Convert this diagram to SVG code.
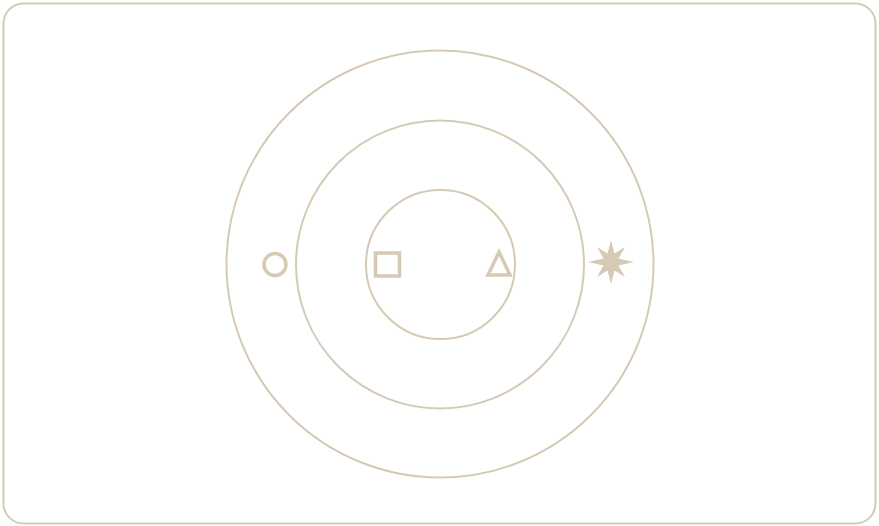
<svg xmlns="http://www.w3.org/2000/svg" width="879" height="526" viewBox="0 0 879 526">
<style>
.ln{fill:none;stroke:#d6cab5;stroke-width:2}
.mk{fill:none;stroke:#d6cab5;stroke-width:3.5}
.fl{fill:#d6cab5;stroke:none}
</style>
<rect width="879" height="526" fill="#ffffff"/>
<rect class="ln" x="3.5" y="3.5" width="872" height="520" rx="20"/>
<g id="ring-outer"><circle class="ln" cx="440" cy="264" r="213.5"/></g>
<g id="ring-middle"><circle class="ln" cx="440" cy="264.5" r="144"/></g>
<g id="ring-inner"><circle class="ln" cx="440.5" cy="264.5" r="74.5"/></g>
<g id="circle-marker"><circle class="mk" cx="275" cy="264.5" r="11"/></g>
<g id="square-marker"><rect class="mk" x="375.5" y="253" width="24" height="23"/></g>
<g id="triangle-marker"><polygon class="mk" points="499,252 510,275 488,275" stroke-linejoin="miter"/></g>
<g id="star-marker"><polygon class="fl" points="611,240 614.5,253.5 625,247 618.5,258.5 634,262 618.5,265.5 625,277 614.5,270.5 611,284 607.5,270.5 597,277 603.5,265.5 588,262 603.5,258.5 597,247 607.5,253.5"/></g>
<g id="connectors"></g>
</svg>
